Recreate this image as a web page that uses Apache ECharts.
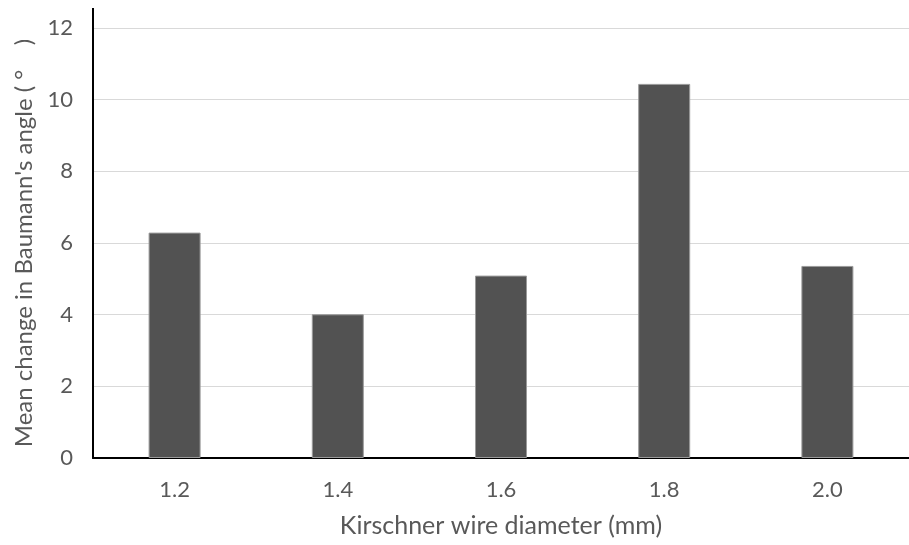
<!DOCTYPE html>
<html>
<head>
<meta charset="utf-8">
<script src="https://cdn.jsdelivr.net/npm/echarts@6/dist/echarts.min.js"></script>
<style>
html,body{margin:0;padding:0;background:#fff;}
#chart{width:909px;height:545px;}
</style>
</head>
<body>
<div id="chart"></div>
<script>
const categories = ['1.2', '1.4', '1.6', '1.8', '2.0'];
const meanChange = [6.29, 4.01, 5.09, 10.44, 5.36];
const yTicks = [0, 2, 4, 6, 8, 10, 12];

const FONT = 'Lato, "Open Sans", sans-serif';
const chart = echarts.init(document.getElementById('chart'), null, {renderer: 'canvas'});
chart.setOption({
  animation: false,
  backgroundColor: '#ffffff',
  grid: {left: 93, right: 0, top: 28, bottom: 87, containLabel: false},
  xAxis: {
    type: 'category',
    data: categories,
    name: 'Kirschner wire diameter (mm)',
    nameLocation: 'middle',
    nameGap: 55,
    nameTextStyle: {color: '#595959', fontSize: 25, fontFamily: FONT},
    axisLine: {lineStyle: {color: '#000', width: 2}},
    axisTick: {show: false},
    axisLabel: {color: '#595959', fontSize: 22, fontFamily: FONT, margin: 21}
  },
  yAxis: {
    type: 'value',
    min: yTicks[0],
    max: yTicks[yTicks.length - 1],
    interval: 2,
    name: "Mean change in Baumann's angle ( °    )",
    nameLocation: 'middle',
    nameGap: 56,
    nameTextStyle: {color: '#595959', fontSize: 24, fontFamily: FONT},
    axisLine: {show: true, lineStyle: {color: '#000', width: 2},
      symbol: ['none', 'rect'], symbolSize: [2, 40]},
    axisTick: {show: false},
    axisLabel: {color: '#595959', fontSize: 22, fontFamily: FONT, margin: 20},
    splitLine: {lineStyle: {color: '#d9d9d9', width: 1}}
  },
  series: [{
    type: 'bar',
    data: meanChange,
    barWidth: 52,
    itemStyle: {color: '#525252', borderColor: '#9a9a9a', borderWidth: 1}
  }]
});
</script>
</body>
</html>
